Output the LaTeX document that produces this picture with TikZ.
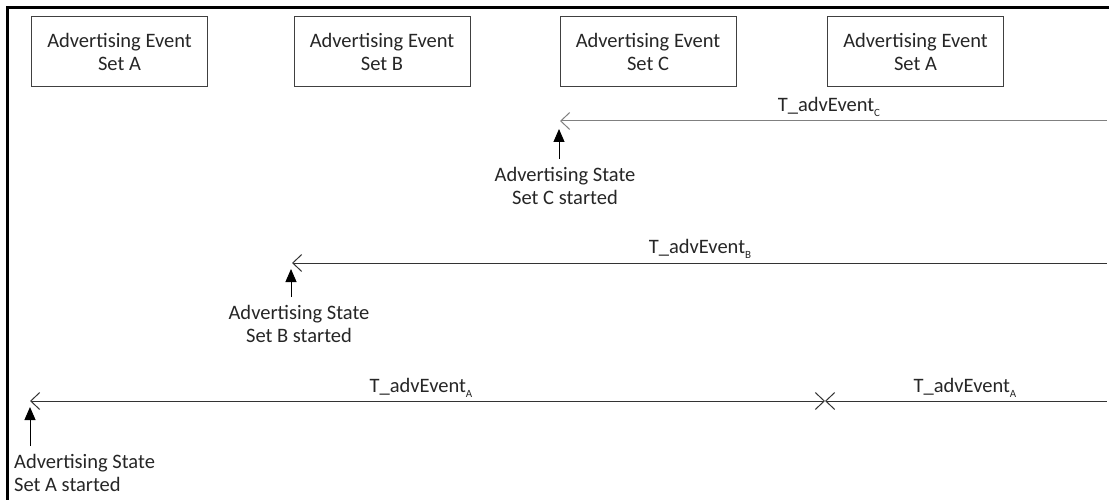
\documentclass[tikz,border=0pt]{standalone}
\usepackage{fontspec}
\setmainfont{Carlito}
\usetikzlibrary{arrows.meta}
\newcommand{\evsub}[1]{\raisebox{-5pt}{\fontsize{11}{11}\selectfont #1}}
\begin{document}
\begin{tikzpicture}[x=1pt, y=-1pt,
  evbox/.style={draw=black!75, line width=1pt, minimum width=176pt, minimum height=70pt, align=center, inner sep=0pt, text=black!85, font=\fontsize{20.5}{23}\selectfont},
  note/.style={inner sep=0pt, text=black!85, font=\fontsize{20.5}{23}\selectfont},
  period/.style={{Straight Barb[length=9pt,width=17pt]}-, line width=1pt, draw=black!80},
  start/.style={-{Triangle[length=13pt,width=11pt]}, line width=1pt, shorten <=8pt}
]
\useasboundingbox (0,0) rectangle (1109,500);
\draw[line width=3pt] (7.5,500) -- (7.5,7.5) -- (1109,7.5);
\node[evbox] (evA) at (119.5,52) {Advertising Event\\Set A};
\node[evbox] (evB) at (382,52) {Advertising Event\\Set B};
\node[evbox] (evC) at (648,52) {Advertising Event\\Set C};
\node[evbox] (evA2) at (915.5,52) {Advertising Event\\Set A};
\coordinate (tipC) at (560,121);
\coordinate (endC) at (1107,121);
\coordinate (tipB) at (292,263);
\coordinate (endB) at (1107,263);
\coordinate (tipA) at (30,401);
\coordinate (crossA) at (825,401);
\coordinate (endA) at (1107,401);
\draw[period, draw=gray] (tipC) -- (endC);
\draw[period] (tipB) -- (endB);
\draw[period, {Straight Barb[length=9pt,width=17pt]}-{Straight Barb[length=9pt,width=17pt]}] (tipA) -- (crossA);
\draw[period] (crossA) -- (endA);
\node[note, anchor=base] (lblC) at (829,112) {T\_advEvent\evsub{C}};
\node[note, anchor=base] (lblB) at (700,253) {T\_advEvent\evsub{B}};
\node[note, anchor=base] (lblA) at (421,392) {T\_advEvent\evsub{A}};
\node[note, anchor=base] (lblA2) at (965,392) {T\_advEvent\evsub{A}};
\node[note, align=center, anchor=north] (stC) at (565,167) {Advertising State\\Set C started};
\node[note, align=center, anchor=north] (stB) at (299,305) {Advertising State\\Set B started};
\node[note, align=left, anchor=north west] (stA) at (14,454) {Advertising State\\Set A started};
\coordinate (upC) at (559,129);
\coordinate (upB) at (291,269);
\coordinate (upA) at (30,407);
\draw[start] (stC.north -| upC) -- (upC);
\draw[start] (stB.north -| upB) -- (upB);
\draw[start] (stA.north -| upA) -- (upA);
\end{tikzpicture}
\end{document}
